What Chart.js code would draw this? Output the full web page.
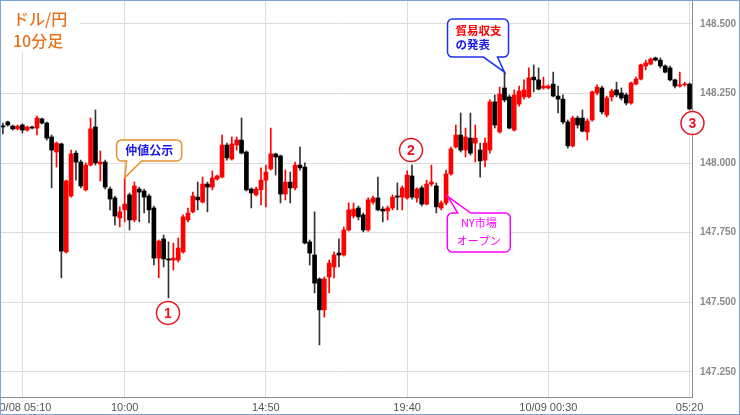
<!DOCTYPE html>
<html>
<head>
<meta charset="utf-8">
<script src="https://cdn.jsdelivr.net/npm/chart.js@4.4.1/dist/chart.umd.min.js"></script>
<style>
html, body { margin: 0; padding: 0; background: #fff; overflow: hidden; }
#wrap { position: absolute; left: -19px; top: 0; width: 759px; height: 415px; }
#frame { position: absolute; left: 0; top: 0; width: 738px; height: 413px; border: 1px solid #7ea3d4; pointer-events: none; }
</style>
</head>
<body>
<div id="wrap"><canvas id="c"></canvas></div>
<div id="frame"></div>
<script>
// 10-minute bars, 10/08 05:10 -> 10/09 05:20
const LABELS = [];
for (let i = 0; i < 146; i++) {
    const m = (5 * 60 + 10 + i * 10) % 1440;
    LABELS.push(String(Math.floor(m / 60)).padStart(2, '0') + ':' + String(m % 60).padStart(2, '0'));
}

const OPEN = [
    null, null, null, null, 148.133, 148.148, 148.133, 148.123, 148.137, 148.119,
    148.130, 148.126, 148.159, 148.144, 148.094, 148.040, 148.069, 147.681, 147.882, 148.036,
    148.004, 147.904, 147.993, 148.130, 147.997, 148.004, 147.907, 147.875, 147.803, 147.832,
    147.886, 147.796, 147.907, 147.900, 147.882, 147.839, 147.659, 147.728, 147.656, 147.652,
    147.652, 147.681, 147.796, 147.825, 147.878, 147.860, 147.925, 147.914, 147.943, 147.950,
    148.065, 148.015, 148.065, 148.083, 148.040, 147.907, 147.886, 147.904, 147.939, 147.979,
    148.033, 148.026, 147.889, 147.932, 147.911, 147.993, 147.986, 147.717, 147.670, 147.584,
    147.473, 147.591, 147.627, 147.677, 147.670, 147.760, 147.810, 147.839, 147.814, 147.760,
    147.860, 147.875, 147.835, 147.828, 147.839, 147.882, 147.878, 147.875, 147.954, 147.875,
    147.911, 147.853, 147.925, 147.918, 147.839, 147.857, 147.961, 148.058, 148.101, 148.047,
    148.090, 148.072, 148.047, 148.011, 148.047, 148.220, 148.112, 148.270, 148.238, 148.119,
    148.212, 148.238, 148.238, 148.309, 148.299, 148.270, 148.270, 148.284, 148.241, 148.230,
    148.148, 148.062, 148.162, 148.162, 148.112, 148.155, 148.252, 148.270, 148.173, 148.238,
    148.263, 148.252, 148.245, 148.216, 148.284, 148.302, 148.349, 148.356, 148.378, 148.370,
    148.349, 148.342, 148.299, 148.277, 148.281, 148.284
];
const HIGH = [
    null, null, null, null, 148.144, 148.151, 148.137, 148.137, 148.141, 148.133,
    148.133, 148.169, 148.162, 148.148, 148.101, 148.076, 148.072, 147.939, 148.047, 148.044,
    148.011, 148.001, 148.162, 148.191, 148.044, 148.011, 147.914, 147.882, 147.843, 147.947,
    147.893, 147.932, 147.914, 147.907, 147.889, 147.846, 147.724, 147.742, 147.717, 147.713,
    147.731, 147.814, 147.839, 147.896, 147.932, 147.950, 147.932, 147.972, 147.957, 148.101,
    148.072, 148.094, 148.094, 148.162, 148.044, 147.911, 147.914, 147.983, 147.993, 148.126,
    148.036, 148.029, 147.975, 147.968, 148.004, 148.058, 148.001, 147.724, 147.825, 147.588,
    147.591, 147.652, 147.681, 147.728, 147.771, 147.857, 147.857, 147.846, 147.821, 147.875,
    147.882, 147.950, 147.843, 147.846, 147.886, 147.929, 147.918, 147.972, 147.993, 147.911,
    147.918, 147.939, 147.993, 147.929, 147.864, 147.975, 148.058, 148.137, 148.180, 148.126,
    148.180, 148.137, 148.072, 148.090, 148.227, 148.245, 148.273, 148.327, 148.245, 148.263,
    148.277, 148.299, 148.342, 148.353, 148.342, 148.309, 148.281, 148.327, 148.277, 148.245,
    148.155, 148.169, 148.169, 148.191, 148.159, 148.259, 148.281, 148.277, 148.241, 148.266,
    148.291, 148.270, 148.252, 148.291, 148.309, 148.356, 148.370, 148.378, 148.381, 148.378,
    148.353, 148.349, 148.302, 148.327, 148.291, 148.288
];
const LOW = [
    null, null, null, null, 148.105, 148.133, 148.119, 148.119, 148.108, 148.115,
    148.123, 148.101, 148.141, 148.083, 147.911, 147.986, 147.588, 147.677, 147.878, 147.939,
    147.911, 147.900, 147.990, 147.993, 147.936, 147.907, 147.832, 147.778, 147.771, 147.789,
    147.760, 147.789, 147.789, 147.821, 147.785, 147.634, 147.588, 147.627, 147.516, 147.616,
    147.645, 147.677, 147.789, 147.821, 147.832, 147.857, 147.825, 147.904, 147.939, 147.947,
    148.011, 148.011, 148.047, 148.033, 147.900, 147.839, 147.882, 147.850, 147.843, 147.975,
    147.957, 147.857, 147.868, 147.857, 147.904, 147.975, 147.710, 147.634, 147.534, 147.347,
    147.447, 147.534, 147.588, 147.627, 147.666, 147.756, 147.803, 147.796, 147.753, 147.756,
    147.853, 147.828, 147.789, 147.796, 147.832, 147.832, 147.832, 147.871, 147.871, 147.860,
    147.846, 147.850, 147.918, 147.821, 147.832, 147.850, 147.957, 148.054, 148.040, 148.022,
    148.029, 148.004, 147.950, 147.986, 148.036, 148.126, 148.108, 148.220, 148.123, 148.115,
    148.205, 148.230, 148.234, 148.256, 148.263, 148.266, 148.266, 148.238, 148.180, 148.141,
    148.054, 148.058, 148.126, 148.112, 148.083, 148.151, 148.245, 148.177, 148.166, 148.223,
    148.238, 148.227, 148.209, 148.212, 148.281, 148.299, 148.335, 148.353, 148.367, 148.342,
    148.324, 148.295, 148.270, 148.273, 148.277, 148.191
];
const CLOSE = [
    null, null, null, null, 148.130, 148.137, 148.123, 148.133, 148.119, 148.130,
    148.126, 148.162, 148.144, 148.090, 148.047, 148.072, 147.684, 147.936, 148.033, 148.004,
    147.918, 147.993, 148.123, 148.001, 148.004, 147.914, 147.871, 147.810, 147.825, 147.853,
    147.796, 147.918, 147.896, 147.878, 147.832, 147.659, 147.720, 147.656, 147.652, 147.659,
    147.695, 147.807, 147.821, 147.882, 147.868, 147.925, 147.914, 147.947, 147.954, 148.065,
    148.019, 148.069, 148.083, 148.036, 147.904, 147.893, 147.907, 147.939, 147.968, 148.033,
    148.022, 147.889, 147.932, 147.911, 147.993, 147.983, 147.713, 147.677, 147.569, 147.473,
    147.584, 147.641, 147.670, 147.670, 147.760, 147.832, 147.835, 147.807, 147.760, 147.868,
    147.875, 147.832, 147.828, 147.839, 147.878, 147.878, 147.911, 147.957, 147.878, 147.907,
    147.853, 147.925, 147.932, 147.843, 147.857, 147.961, 148.051, 148.101, 148.047, 148.094,
    148.036, 148.090, 148.008, 148.072, 148.220, 148.137, 148.248, 148.227, 148.126, 148.245,
    148.259, 148.263, 148.306, 148.299, 148.266, 148.277, 148.277, 148.241, 148.230, 148.148,
    148.062, 148.162, 148.137, 148.115, 148.151, 148.256, 148.273, 148.184, 148.234, 148.259,
    148.245, 148.234, 148.216, 148.288, 148.302, 148.353, 148.360, 148.374, 148.370, 148.349,
    148.327, 148.299, 148.277, 148.281, 148.284, 148.195
];

// the first date label sits a little right of the left edge, so it gets no grid line
const TICK_INDEX = [8, 29, 58, 87, 116, 145];
const TICK_TEXT = ['10/08 05:10', '10:00', '14:50', '19:40', '10/09 00:30', '05:20'];
const Y_TICKS = [147.25, 147.5, 147.75, 148.0, 148.25, 148.5];

const UP = '#ff0000';
const DOWN = '#000000';

const CIRCLES = [
    { text: '1', at: 37.9, price: 147.462 },
    { text: '2', at: 87.8, price: 148.047 },
    { text: '3', at: 145.6, price: 148.144 }
];

// box is [dx, dy, w, h] from the tip, base is the tail's base from the tip
const CALLOUTS = [
    { at: 29, price: 147.947, box: [-8, -38, 65, 21], side: 'bottom', base: [2, 17], border: '#e8902f',
      font: 'bold 12px "Noto Sans CJK JP"', align: 'center',
      lines: [{ text: '仲値公示', color: '#1818e8', dx: 32.5, dy: 10.5 }] },
    { at: 107, price: 148.327, box: [-57, -53, 61, 38], side: 'bottom', base: [-21, -7], border: '#1e32f0',
      font: 'bold 11.5px "Noto Sans CJK JP"', align: 'left',
      lines: [{ text: '貿易収支', color: '#ff0000', dx: 8, dy: 12 },
              { text: 'の発表', color: '#1818e8', dx: 8, dy: 26 }] },
    { at: 95.35, price: 147.880, box: [-0.5, 16.5, 63, 39], side: 'top', base: [10, 23], border: '#ff00ff',
      font: '11px "Noto Sans CJK JP"', align: 'center',
      lines: [{ text: 'NY市場', color: '#ff00ff', dx: 31.5, dy: 10 },
              { text: 'オープン', color: '#ff00ff', dx: 31.5, dy: 28 }] }
];

function calloutPath(ctx, x, y, w, h, r, side, b1, b2, tx, ty) {
    ctx.beginPath();
    ctx.moveTo(x + r, y);
    if (side === 'top') { ctx.lineTo(b1, y); ctx.lineTo(tx, ty); ctx.lineTo(b2, y); }
    ctx.lineTo(x + w - r, y);
    ctx.arcTo(x + w, y, x + w, y + r, r);
    ctx.lineTo(x + w, y + h - r);
    ctx.arcTo(x + w, y + h, x + w - r, y + h, r);
    if (side === 'bottom') { ctx.lineTo(b2, y + h); ctx.lineTo(tx, ty); ctx.lineTo(b1, y + h); }
    ctx.lineTo(x + r, y + h);
    ctx.arcTo(x, y + h, x, y + h - r, r);
    ctx.lineTo(x, y + r);
    ctx.arcTo(x, y, x + r, y, r);
    ctx.closePath();
}

const notes = {
    id: 'notes',
    afterDatasetsDraw(chart) {
        const ctx = chart.ctx;
        const xs = chart.scales.x, ys = chart.scales.y;
        ctx.save();

        // title
        ctx.fillStyle = '#fff';
        ctx.fillRect(0, 0, 99, 52);
        ctx.fillStyle = '#e8731c';
        ctx.font = '500 16px "Noto Sans CJK JP"';
        ctx.textAlign = 'left';
        ctx.textBaseline = 'middle';
        ctx.fillText('ドル/円', 32, 19);
        ctx.fillText('10分足', 32, 41);

        CALLOUTS.forEach(c => {
            const tx = xs.getPixelForValue(c.at), ty = ys.getPixelForValue(c.price);
            const bx = tx + c.box[0], by = ty + c.box[1];
            calloutPath(ctx, bx, by, c.box[2], c.box[3], 5, c.side, tx + c.base[0], tx + c.base[1], tx, ty);
            ctx.fillStyle = '#fff';
            ctx.fill();
            ctx.strokeStyle = c.border;
            ctx.lineWidth = 1.5;
            ctx.stroke();
            ctx.font = c.font;
            ctx.textAlign = c.align;
            c.lines.forEach(l => {
                ctx.fillStyle = l.color;
                ctx.fillText(l.text, bx + l.dx, by + l.dy);
            });
        });

        CIRCLES.forEach(c => {
            const cx = xs.getPixelForValue(c.at), cy = ys.getPixelForValue(c.price);
            ctx.beginPath();
            ctx.arc(cx, cy, 11.5, 0, Math.PI * 2);
            ctx.fillStyle = '#fff';
            ctx.fill();
            ctx.strokeStyle = '#e6141e';
            ctx.lineWidth = 1.5;
            ctx.stroke();
            ctx.fillStyle = '#e6141e';
            ctx.font = 'bold 14px "Liberation Sans"';
            ctx.textAlign = 'center';
            ctx.fillText(c.text, cx, cy + 1);
        });
        ctx.restore();
    }
};

const bodyColors = OPEN.map((o, i) => CLOSE[i] > o ? UP : DOWN);
const wickColors = OPEN.map((o, i) => CLOSE[i] > o ? UP : '#333');

new Chart(document.getElementById('c'), {
    type: 'bar',
    data: {
        labels: LABELS,
        datasets: [
            {
                label: 'body',
                data: OPEN.map((o, i) => o === null ? null : [o, CLOSE[i]]),
                backgroundColor: bodyColors,
                borderWidth: 0,
                barThickness: 4,
                minBarLength: 1,
                grouped: false,
                order: 0
            },
            {
                label: 'wick',
                data: LOW.map((l, i) => l === null ? null : [l, HIGH[i]]),
                backgroundColor: wickColors,
                borderWidth: 0,
                barThickness: 1,
                grouped: false,
                order: 1
            }
        ]
    },
    options: {
        responsive: true,
        maintainAspectRatio: false,
        animation: false,
        layout: { padding: 0 },
        plugins: {
            legend: { display: false },
            tooltip: { enabled: false }
        },
        scales: {
            x: {
                offset: true,
                grid: {
                    offset: false,
                    drawTicks: false,
                    color: ctx => ctx.index === TICK_INDEX[0] ? 'rgba(0,0,0,0)' : '#dcdcdc'
                },
                border: { color: '#8c8c8c' },
                ticks: {
                    autoSkip: false,
                    maxRotation: 0,
                    padding: 4,
                    color: '#555',
                    font: { family: 'Liberation Sans', size: 11 },
                    callback: (v, i) => {
                        const k = TICK_INDEX.indexOf(i);
                        return k < 0 ? null : TICK_TEXT[k];
                    }
                },
                afterFit: s => { s.height = 18; s.paddingLeft = 0; s.paddingRight = 0; }
            },
            y: {
                position: 'right',
                min: 147.16,
                max: 148.586,
                afterBuildTicks: s => { s.ticks = Y_TICKS.map(v => ({ value: v })); },
                grid: { drawTicks: false, color: '#dcdcdc' },
                border: { color: '#8c8c8c' },
                ticks: {
                    padding: 8,
                    color: '#8a8a8a',
                    font: { family: 'Liberation Sans', size: 10, weight: 'bold' },
                    callback: v => v.toFixed(3)
                },
                afterFit: s => { s.width = 48; s.paddingTop = 0; s.paddingBottom = 0; }
            }
        }
    },
    plugins: [notes]
});
</script>
</body>
</html>
